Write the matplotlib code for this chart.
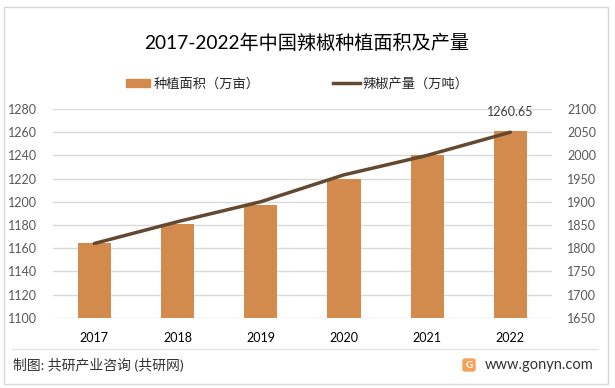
import matplotlib
matplotlib.use("Agg")
import matplotlib.pyplot as plt
from matplotlib.patches import Rectangle, FancyBboxPatch
from matplotlib.lines import Line2D

plt.rcParams['font.family'] = ['Lato', 'Noto Sans CJK SC', 'DejaVu Sans']

years = ['2017', '2018', '2019', '2020', '2021', '2022']
area = [1164, 1181, 1197, 1220, 1240, 1260.65]
output = [1810, 1857, 1900, 1958, 2000, 2050]
left_ticks = list(range(1100, 1281, 20))
right_ticks = list(range(1650, 2101, 50))

title = '2017-2022年中国辣椒种植面积及产量'
bar_label = '种植面积（万亩）'
line_label = '辣椒产量（万吨）'
source = '制图: 共研产业咨询 (共研网)'
site = 'www.gonyn.com'

bar_color = '#D38B4D'
line_color = '#634832'
tick_color = '#595959'

W, H = 615, 388
fig = plt.figure(figsize=(W / 100, H / 100), dpi=100)
fig.patch.set_facecolor('white')

ax = fig.add_axes([52.7 / W, 1 - 317.7 / H, (552 - 52.7) / W, (317.7 - 109) / H])
x = list(range(len(years)))
ax.bar(x, area, width=0.4, color=bar_color, zorder=3)
ax.set_ylim(1100, 1280)
ax.set_yticks(left_ticks)
ax.set_xlim(-0.5, len(years) - 0.5)
ax.set_xticks(x)
ax.set_xticklabels(years)
ax.grid(axis='y', color='#D9D9D9', linewidth=1, zorder=0)
for s in ax.spines.values():
    s.set_visible(False)
ax.tick_params(axis='both', length=0, labelsize=9, colors=tick_color)
ax.tick_params(axis='x', pad=10, colors='#000000')
ax.tick_params(axis='y', pad=11)

ax.annotate(f'{area[-1]:.2f}', xy=(x[-1], area[-1]), xytext=(0, 14),
            textcoords='offset points', ha='center', va='center',
            fontsize=9, color='#404040')

ax2 = ax.twinx()
ax2.plot(x, output, color=line_color, linewidth=2.5, solid_capstyle='round', zorder=4)
ax2.set_ylim(1650, 2100)
ax2.set_yticks(right_ticks)
for s in ax2.spines.values():
    s.set_visible(False)
ax2.tick_params(axis='y', length=0, labelsize=9, colors=tick_color, pad=11)

# title
fig.text(307 / W, 1 - 43 / H, title, ha='center', va='center', fontsize=13.8, color='#000000')

# legend
fig.patches.append(Rectangle((126 / W, 1 - 86.5 / H), 24 / W, 7 / H,
                             transform=fig.transFigure, color=bar_color))
fig.text(154 / W, 1 - 83 / H, bar_label, ha='left', va='center', fontsize=9.5, color='#262626')
fig.lines.append(Line2D([333 / W, 360 / W], [1 - 83 / H, 1 - 83 / H],
                        transform=fig.transFigure, color=line_color, linewidth=2.5))
fig.text(362 / W, 1 - 83 / H, line_label, ha='left', va='center', fontsize=9.5, color='#262626')

# footer
fig.lines.append(Line2D([12 / W, 597 / W], [1 - 349 / H, 1 - 349 / H],
                        transform=fig.transFigure, color='#E3E3E3', linewidth=1))
fig.text(13 / W, 1 - 365 / H, source, ha='left', va='center', fontsize=10, color='#333333')
fig.patches.append(FancyBboxPatch((463 / W, 1 - 371 / H), 12 / W, 12 / H,
                                  boxstyle='round,pad=0,rounding_size=0.004',
                                  transform=fig.transFigure, color='#F4A259'))
fig.text(469 / W, 1 - 365 / H, 'G', ha='center', va='center', fontsize=7,
         color='white', fontweight='bold')
fig.text(485 / W, 1 - 365 / H, site, ha='left', va='center', fontsize=10.5, color='#333333')

# frame
fig.patches.append(Rectangle((4 / W, 1 - 384 / H), 604 / W, 377 / H, transform=fig.transFigure,
                             fill=False, edgecolor='#D9D9D9', linewidth=1))

fig.savefig('out.png', dpi=100, facecolor='white')
